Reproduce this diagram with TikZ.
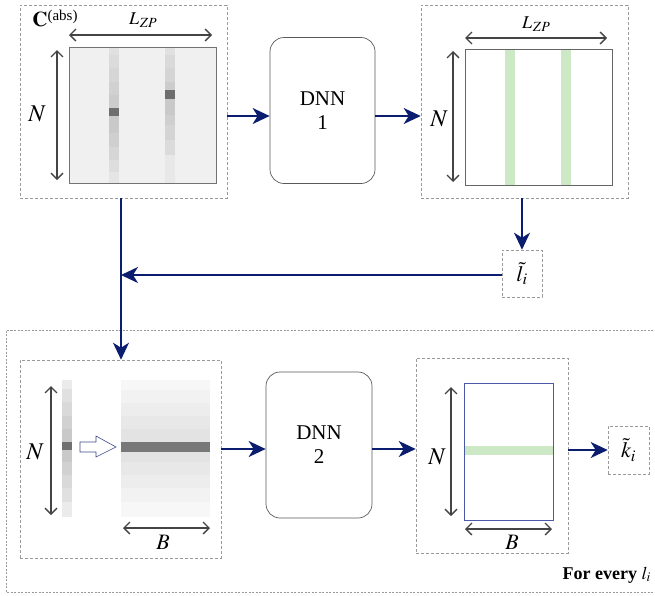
\documentclass[tikz,border=0pt]{standalone}
\usepackage{mathptmx}
\usepackage{fontspec}
\setmainfont{Liberation Serif}
\usetikzlibrary{arrows.meta}
\definecolor{navy}{HTML}{0B1D6E}
\definecolor{dashgray}{HTML}{9A9A9A}
\definecolor{dimgray}{HTML}{444444}
\definecolor{softgreen}{HTML}{CDE8C5}
\definecolor{matblue}{HTML}{4A5AA8}
\newcommand{\lzp}{$L$\kern0.5pt\raisebox{-2.5pt}{\fontsize{14}{14}\selectfont$ZP$}}
\tikzset{
  dbox/.style={draw=dashgray, dash pattern=on 3pt off 2pt, line width=0.6pt, inner sep=0pt},
  outerbox/.style={draw=dashgray, dash pattern=on 2pt off 1.5pt, line width=0.6pt},
  dnnbox/.style={draw=black!65, line width=0.7pt, rounded corners=14pt, align=center,
    minimum width=105pt, minimum height=146pt, font=\fontsize{21}{24}\selectfont},
  flow/.style={draw=navy, line width=1.8pt, -{Stealth[length=17pt,width=16pt,inset=5pt]}},
  dimarrow/.style={draw=dimgray, line width=1.3pt,
    {Straight Barb[length=6pt,width=12pt]}-{Straight Barb[length=6pt,width=12pt]}},
  nlabel/.style={inner sep=0pt, font=\fontsize{24}{24}\selectfont},
  blabel/.style={inner sep=0pt, font=\fontsize{22}{22}\selectfont},
  lzplabel/.style={inner sep=0pt, font=\fontsize{18}{18}\selectfont},
  tildebox/.style={dbox, font=\fontsize{22}{22}\selectfont},
}
\begin{document}
\begin{tikzpicture}[x=1pt,y=-1pt]
\useasboundingbox (0,0) rectangle (655,595);

% outer loop box (right edge off the picture)
\draw[outerbox] (660,330) -- (6,330) -- (6,592) -- (660,592);

% ---------- top-left: C(abs)
\node[dbox, minimum width=207pt, minimum height=193pt] (box1) at (123.5,101.5) {};
\node[inner sep=0pt, font=\fontsize{21}{21}\selectfont] (cabs) at (55,18)
  {$\mathbf{C}$\raisebox{6pt}{\fontsize{15}{15}\selectfont(abs)}};
\fill[black!6] (69,47) rectangle (216,183);
\foreach \a/\b/\c in {47/55/12, 55/68/14, 68/82/16, 82/95/18, 95/108/20, 108/116/57,
  116/133/21, 133/147/19, 147/160/16, 160/172/13, 172/183/10}
  \fill[black!\c] (109,\a) rectangle (119,\b);
\foreach \a/\b/\c in {47/55/12, 55/68/15, 68/82/17, 82/90/20, 90/99/57,
  99/115/21, 115/125/19, 125/140/17, 140/155/14, 155/183/9}
  \fill[black!\c] (165,\a) rectangle (175,\b);
\draw[black!55, line width=0.8pt] (69,47) rectangle (216,183);
\coordinate (d1a) at (69,35); \coordinate (d1b) at (212,35);
\draw[dimarrow] (d1a) -- (d1b);
\node[lzplabel] (lzp1) at (143,20) {\lzp};
\coordinate (d2a) at (57,50); \coordinate (d2b) at (57,180);
\draw[dimarrow] (d2a) -- (d2b);
\node[nlabel] (n1) at (37,114) {$N$};

% ---------- DNN 1
\node[dnnbox] (dnn1) at (322.5,110.5) {DNN\\1};

% ---------- top-right
\node[dbox, minimum width=207pt, minimum height=193pt] (box2) at (524.5,101.5) {};
\fill[white] (465,49) rectangle (612,185);
\fill[softgreen] (505,49) rectangle (515,185);
\fill[softgreen] (561,49) rectangle (571,185);
\draw[black!60, line width=0.8pt] (465,49) rectangle (612,185);
\coordinate (d3a) at (465,38); \coordinate (d3b) at (607,38);
\draw[dimarrow] (d3a) -- (d3b);
\node[lzplabel] (lzp2) at (536,24) {\lzp};
\coordinate (d4a) at (453,51); \coordinate (d4b) at (453,182);
\draw[dimarrow] (d4a) -- (d4b);
\node[nlabel] (n2) at (439,119) {$N$};

% ---------- l tilde
\node[tildebox, minimum width=40pt, minimum height=47pt] (lt) at (522,273.5) {$\tilde{l}_i$};

% ---------- bottom-left
\node[dbox, minimum width=201pt, minimum height=198pt] (box3) at (120.5,459) {};
\foreach \a/\b/\c in {380/389/8, 389/402/12, 402/416/15, 416/429/18, 429/442/21, 442/450/56,
  450/462/21, 462/475/18, 475/488/15, 488/502/12, 502/517/8}
  \fill[black!\c] (62,\a) rectangle (72,\b);
\foreach \a/\b/\c in {380/390/3, 390/403/5, 403/416/7, 416/429/9, 429/442/11, 442/452/53,
  452/462/11, 462/475/9, 475/488/7, 488/502/5, 502/517/3}
  \fill[black!\c] (121,\a) rectangle (210,\b);
\draw[navy!80, line width=0.6pt, fill=white]
  (80,442) -- (96,442) -- (96,436) -- (116,447) -- (96,457) -- (96,452) -- (80,452) -- cycle;
\coordinate (d5a) at (51,386); \coordinate (d5b) at (51,515);
\draw[dimarrow] (d5a) -- (d5b);
\node[nlabel] (n3) at (35,452) {$N$};
\coordinate (d6a) at (123,528); \coordinate (d6b) at (210,528);
\draw[dimarrow] (d6a) -- (d6b);
\node[blabel] (b1) at (163,542) {$B$};

% ---------- DNN 2
\node[dnnbox, minimum width=106pt] (dnn2) at (319,445) {DNN\\2};

% ---------- bottom-right
\node[dbox, minimum width=152pt, minimum height=195pt] (box4) at (492,455.5) {};
\fill[softgreen] (464,446) rectangle (553,455);
\draw[matblue, line width=0.7pt] (464,383) rectangle (553,520);
\coordinate (d7a) at (451,387); \coordinate (d7b) at (451,516);
\draw[dimarrow] (d7a) -- (d7b);
\node[nlabel] (n4) at (437,457) {$N$};
\coordinate (d8a) at (465,529); \coordinate (d8b) at (552,529);
\draw[dimarrow] (d8a) -- (d8b);
\node[blabel] (b2) at (512,542) {$B$};

% ---------- k tilde
\node[tildebox, minimum width=41pt, minimum height=48pt] (kt) at (628.5,450) {$\tilde{k}_i$};

% ---------- loop label
\node[inner sep=0pt, font=\fontsize{18}{18}\selectfont\bfseries, anchor=east] (loop) at (651,575) {For every $l_i$};

% ---------- flow arrows
\coordinate (j1) at (121,275);
\draw[flow] (box1.east |- 0,116) -- (dnn1.west |- 0,116);
\draw[flow] (dnn1.east |- 0,116) -- (box2.west |- 0,116);
\draw[flow] (box2.south -| lt.north) -- (lt.north);
\draw[flow] (lt.west |- j1) -- (j1);
\draw[flow] (box1.south -| j1) -- (box3.north -| j1);
\draw[flow] (box3.east |- 0,449) -- (dnn2.west |- 0,449);
\draw[flow] (dnn2.east |- 0,449) -- (box4.west |- 0,449);
\draw[flow] (box4.east |- kt.west) -- (kt.west);
\end{tikzpicture}
\end{document}
